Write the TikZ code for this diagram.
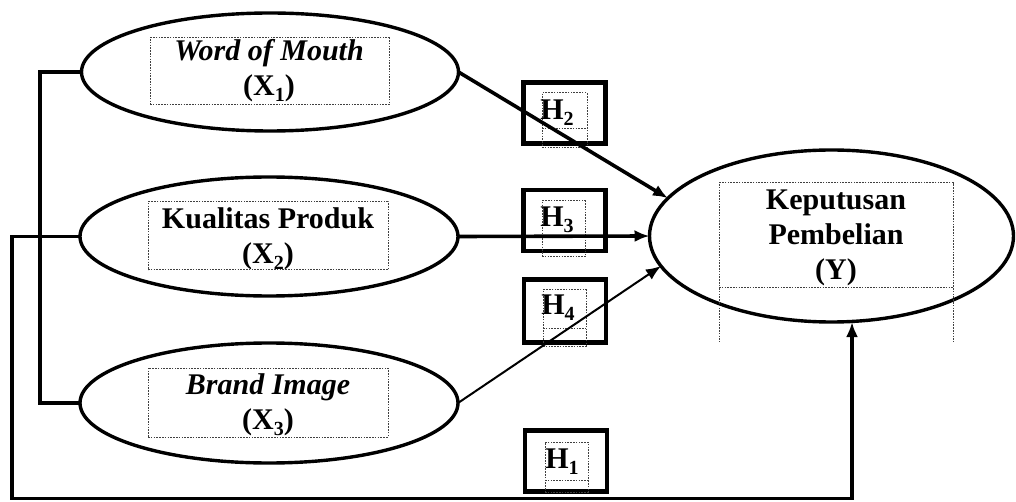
\documentclass[tikz,border=0pt]{standalone}
\usepackage{fontspec}
\setmainfont{Liberation Serif}
\usetikzlibrary{shapes.geometric,arrows.meta}
% lowered, smaller index used in the variable labels
\newcommand{\subidx}[1]{\raisebox{-0.2em}{\fontsize{20}{20}\selectfont #1}}

\begin{document}
\begin{tikzpicture}[x=1pt,y=-1pt,
  construct/.style={draw, ellipse, line width=3.4pt, inner sep=0pt, outer sep=0pt},
  textframe/.style={draw=black!75, line width=1pt, dash pattern=on 1.6pt off 1.2pt,
                    inner sep=0pt, outer sep=0pt},
  hypbox/.style={draw, line width=4.5pt, inner sep=0pt, outer sep=0pt,
                 minimum width=82pt, minimum height=61pt},
  lbl/.style={font=\fontsize{30}{35}\selectfont\bfseries, align=center, inner sep=0pt},
  link/.style={line width=3.6pt},
  thinlink/.style={line width=2pt},
  tip/.style={-{Latex[length=15pt,width=12pt]}},
]
\useasboundingbox (0,0) rectangle (1016,502);

% ---- latent constructs ----
\node[construct, minimum width=377pt, minimum height=118pt] (x1) at (270,72) {};
\node[construct, minimum width=378pt, minimum height=119pt] (x2) at (269,236.5) {};
\node[construct, minimum width=378pt, minimum height=120pt] (x3) at (269,403) {};
\node[construct, minimum width=364pt, minimum height=172pt] (y)  at (831.5,236) {};

% ---- text frames inside the constructs ----
\node[textframe, minimum width=239pt, minimum height=67pt] (x1f) at (269.5,71.5) {};
\node[textframe, minimum width=240pt, minimum height=68pt] (x2f) at (268,236) {};
\node[textframe, minimum width=240pt, minimum height=69pt] (x3f) at (268,402.5) {};
\node[textframe, minimum width=234pt, minimum height=105pt] (yf) at (836,235.5) {};
\coordinate (yfl) at (719,342);
\coordinate (yfr) at (953,342);
\draw[textframe] (yf.south west) -- (yfl);
\draw[textframe] (yf.south east) -- (yfr);

% ---- construct labels ----
\node[lbl] (x1t) at (269,71) {\itshape Word of Mouth\\(X\subidx{1})};
\node[lbl] (x2t) at (268,239) {Kualitas Produk\\(X\subidx{2})};
\node[lbl] (x3t) at (268,405) {\itshape Brand Image\\(X\subidx{3})};
\node[lbl] (yt)  at (836,238) {Keputusan\\Pembelian\\(Y)};

% ---- hypothesis boxes ----
\node[hypbox] (h2) at (564.3,113) {};
\node[hypbox] (h3) at (564.3,220.5) {};
\node[hypbox, minimum height=63pt] (h4) at (565,311) {};
\node[hypbox] (h1) at (566,461) {};

\node[textframe, minimum width=45pt, minimum height=55pt] (h2f) at (564.5,120.5) {};
\node[textframe, minimum width=43pt, minimum height=56pt] (h3f) at (563.5,229) {};
\node[textframe, minimum width=43pt, minimum height=56pt] (h4f) at (564.5,318) {};
\node[textframe, minimum width=43pt, minimum height=50pt] (h1f) at (566.5,467) {};
\draw[textframe] ([yshift=19pt]h2f.south west) -- ([yshift=19pt]h2f.south east);
\draw[textframe] ([yshift=19pt]h3f.south west) -- ([yshift=19pt]h3f.south east);
\draw[textframe] ([yshift=18pt]h4f.south west) -- ([yshift=18pt]h4f.south east);
\draw[textframe] ([yshift=12pt]h1f.south west) -- ([yshift=12pt]h1f.south east);

\node[lbl] (h2t) at (557,113) {H\subidx{2}};
\node[lbl] (h3t) at (557,220) {H\subidx{3}};
\node[lbl] (h4t) at (558,308) {H\subidx{4}};
\node[lbl] (h1t) at (562,462) {H\subidx{1}};

% ---- paths between constructs ----
\draw[link, tip] (x1.east) -- (y.167.6);
\draw[link, tip] (x2.east) -- (y.west);
\draw[thinlink, tip] (x3.east) -- (y.190.8);

% bracket joining X1 and X3
\coordinate (bk) at (40,403);
\draw[link] (x1.west) -| (bk) -- (x3.west);

% simultaneous path H1 to Y
\coordinate (c1) at (12,498.5);
\coordinate (c2) at (852,498.5);
\draw[link, tip] (x2.west) -| (c1) -- (c2) -- (c2 |- y.south);
\end{tikzpicture}
\end{document}
